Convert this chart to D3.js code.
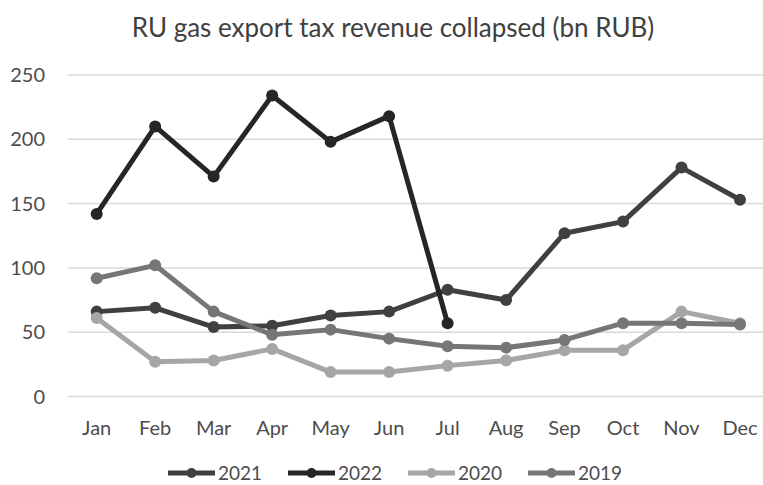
<!DOCTYPE html>
<html>
<head>
<meta charset="utf-8">
<script src="https://cdn.jsdelivr.net/npm/d3@7"></script>
<style>
  body { margin: 0; background: #fff; }
  svg { display: block; font-family: Lato, "Open Sans", sans-serif; }
</style>
</head>
<body>
<div id="chart"></div>
<script>
// RU gas export tax revenue, bn RUB, by month

const months = ["Jan", "Feb", "Mar", "Apr", "May", "Jun", "Jul", "Aug", "Sep", "Oct", "Nov", "Dec"];
const yTicks = [0, 50, 100, 150, 200, 250];

const values2021 = [66, 69, 54, 55, 63, 66, 83, 75, 127, 136, 178, 153];
const values2022 = [142, 210, 171, 234, 198, 218, 57];
const values2020 = [61, 27, 28, 37, 19, 19, 24, 28, 36, 36, 66, 57];
const values2019 = [92, 102, 66, 48, 52, 45, 39, 38, 44, 57, 57, 56];

const seriesNames = ["2021", "2022", "2020", "2019"];
const seriesColors = ["#404040", "#262626", "#a6a6a6", "#767676"];

const series = [values2021, values2022, values2020, values2019].map((vals, i) => ({
    name: seriesNames[i],
    color: seriesColors[i],
    values: vals
}));

const width = 763, height = 485;

const svg = d3.select("#chart").append("svg")
    .attr("width", width)
    .attr("height", height);

const x = d3.scalePoint()
    .domain(months)
    .range([96.7, 740]);

const y = d3.scaleLinear()
    .domain([0, 250])
    .range([396.5, 75]);

// title
svg.append("text")
    .attr("x", 393)
    .attr("y", 37)
    .attr("text-anchor", "middle")
    .attr("font-size", 26)
    .attr("fill", "#404040")
    .text("RU gas export tax revenue collapsed (bn RUB)");

// gridlines
svg.append("g")
    .selectAll("line")
    .data(yTicks)
    .enter()
    .append("line")
    .attr("x1", 68)
    .attr("x2", 763)
    .attr("y1", d => y(d))
    .attr("y2", d => y(d))
    .attr("stroke", "#d9d9d9")
    .attr("stroke-width", 1.5);

// y labels
svg.append("g")
    .selectAll("text")
    .data(yTicks)
    .enter()
    .append("text")
    .attr("x", 45)
    .attr("y", d => y(d))
    .attr("dy", "0.35em")
    .attr("text-anchor", "end")
    .attr("font-size", 20)
    .attr("fill", "#4d4d4d")
    .text(d => d);

// x labels
svg.append("g")
    .selectAll("text")
    .data(months)
    .enter()
    .append("text")
    .attr("x", d => x(d))
    .attr("y", 435)
    .attr("text-anchor", "middle")
    .attr("font-size", 20)
    .attr("fill", "#4d4d4d")
    .text(d => d);

const line = d3.line()
    .x((d, i) => x(months[i]))
    .y(d => y(d));

const plot = svg.append("g");

series.forEach(s => {
    const grp = plot.append("g");

    grp.append("path")
        .attr("d", line(s.values))
        .attr("fill", "none")
        .attr("stroke", s.color)
        .attr("stroke-width", 5)
        .attr("stroke-linejoin", "round");

    grp.selectAll("circle")
        .data(s.values)
        .enter()
        .append("circle")
        .attr("cx", (d, i) => x(months[i]))
        .attr("cy", d => y(d))
        .attr("r", 6)
        .attr("fill", s.color);
});

// legend
const legend = svg.append("g")
    .attr("transform", "translate(168, 473)");

const items = legend.selectAll(".legend-item")
    .data(series)
    .enter()
    .append("g")
    .attr("class", "legend-item")
    .attr("transform", (d, i) => `translate(${i * 120}, 0)`);

items.append("line")
    .attr("x1", 0)
    .attr("x2", 47)
    .attr("stroke", d => d.color)
    .attr("stroke-width", 5);

items.append("circle")
    .attr("cx", 23.5)
    .attr("r", 5)
    .attr("fill", d => d.color);

items.append("text")
    .attr("x", 50)
    .attr("dy", "0.35em")
    .attr("font-size", 19)
    .attr("fill", "#4d4d4d")
    .text(d => d.name);
</script>
</body>
</html>
